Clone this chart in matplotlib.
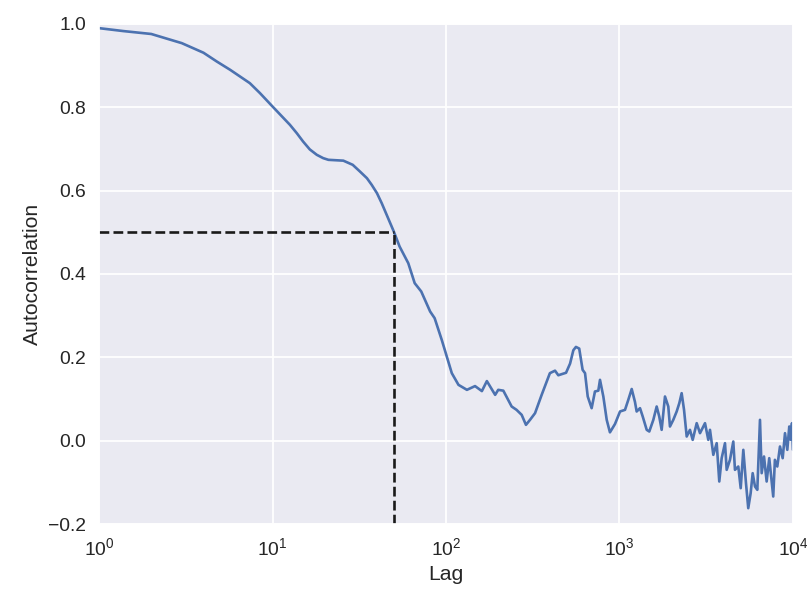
import matplotlib
matplotlib.use("Agg")
import matplotlib.pyplot as plt
import seaborn as sns

# lag (samples) and autocorrelation of the trace
lags = [1, 1.38, 2, 3, 4, 4.77, 5.7, 7.4, 8.47, 10, 12.6, 13.8, 15, 16.4, 18,
        19.6, 21, 23.4, 25.6, 29, 31.9, 35, 37.3, 40, 42.6, 45.5,
        50, 54, 60.6, 66, 72, 81, 86, 94.5, 101, 108, 118, 132, 147, 161,
        172, 192, 200, 214, 239, 255, 273, 289, 305, 326, 356, 397, 425,
        444, 492, 519, 542, 561, 586, 613, 633, 656, 691, 722, 755, 772,
        807, 844, 881, 942, 1007, 1076, 1124, 1176, 1228, 1256, 1313, 1361,
        1435, 1485, 1567, 1638, 1695, 1750, 1829, 1911, 1954, 2042, 2136,
        2212, 2282, 2355, 2440, 2548, 2642, 2786, 2911, 3041, 3111, 3250,
        3324, 3474, 3633, 3760, 3881, 4056, 4148, 4333, 4529, 4630, 4839,
        4997, 5173, 5359, 5523, 5702, 5857, 6040, 6229, 6453, 6600, 6808,
        7051, 7298, 7531, 7694, 7867, 8120, 8416, 8722, 8995, 9274, 9520,
        9694, 9870, 9990]
acf = [0.990, 0.983, 0.976, 0.954, 0.931, 0.910, 0.890, 0.858, 0.834, 0.802,
       0.758, 0.738, 0.718, 0.699, 0.686, 0.678, 0.674, 0.673, 0.672, 0.662,
       0.646, 0.630, 0.614, 0.594, 0.570, 0.542,
       0.502, 0.466, 0.426, 0.378,
       0.358, 0.310, 0.294, 0.242, 0.202, 0.162, 0.134, 0.122, 0.131, 0.119,
       0.143, 0.110, 0.122, 0.120, 0.082, 0.074, 0.062, 0.038, 0.050, 0.066,
       0.110, 0.162, 0.168, 0.157, 0.163, 0.185, 0.217, 0.225, 0.221, 0.170,
       0.162, 0.106, 0.078, 0.118, 0.120, 0.146, 0.106, 0.050, 0.020, 0.040,
       0.070, 0.074, 0.098, 0.124, 0.093, 0.070, 0.078, 0.058, 0.026, 0.022,
       0.050, 0.082, 0.058, 0.026, 0.106, 0.082, 0.034, 0.050, 0.070, 0.090,
       0.114, 0.074, 0.010, 0.026, 0.002, 0.042, 0.018, 0.034, 0.042, 0.002,
       0.026, -0.034, -0.006, -0.098, -0.042, -0.006, -0.070, -0.046, -0.002,
       -0.070, -0.062, -0.114, -0.022, -0.102, -0.162, -0.126, -0.078, -0.110,
       -0.118, 0.050, -0.078, -0.038, -0.098, -0.042, -0.098, -0.134, -0.046,
       -0.062, -0.014, -0.042, 0.018, -0.022, 0.034, 0.002, 0.042, -0.022]

# where the autocorrelation drops to one half
half_level = 0.5
half_lag = 50

sns.set_theme(style="darkgrid")
plt.rcParams['font.family'] = ['Liberation Sans', 'DejaVu Sans']
plt.rcParams['mathtext.fontset'] = 'custom'
plt.rcParams['mathtext.rm'] = 'Liberation Sans'
plt.rcParams['mathtext.it'] = 'Liberation Sans'

fig = plt.figure(figsize=(8.09, 6.01), dpi=100)
ax = fig.add_axes([0.1224, 0.1281, 0.8578, 0.832])

ax.plot(lags, acf, color='#4c72b0', lw=1.9)
ax.plot([1, half_lag], [half_level, half_level], 'k--', lw=1.9)
ax.plot([half_lag, half_lag], [-0.2, half_level], 'k--', lw=1.9)

ax.set_xscale('log')
ax.set_xlim(1, 1e4)
ax.set_ylim(-0.2, 1.0)
ax.grid(True, which='major', color='white', lw=1.3)
ax.grid(False, which='minor')
ax.tick_params(labelsize=13.9, colors='#262626')
ax.set_xlabel("Lag", fontsize=15.2, color='#262626')
ax.set_ylabel("Autocorrelation", fontsize=15.2, color='#262626')

fig.savefig("out.png", dpi=100)
